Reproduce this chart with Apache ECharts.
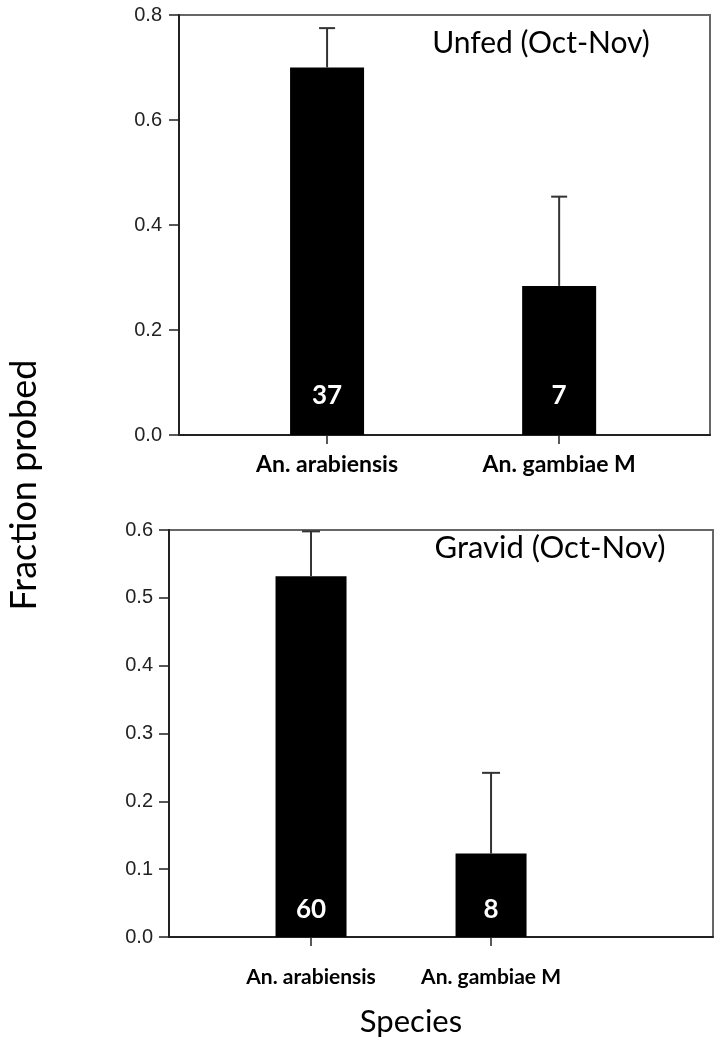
<!DOCTYPE html>
<html>
<head>
<meta charset="utf-8">
<script src="https://cdn.jsdelivr.net/npm/echarts@6/dist/echarts.min.js"></script>
<style>
  html, body { margin: 0; padding: 0; background: #fff; }
  #chart { width: 721px; height: 1049px; }
</style>
</head>
<body>
<div id="chart"></div>
<script>
// species on the x axis (same for both panels)
const species = ['An. arabiensis', 'An. gambiae M'];

// top panel: unfed (Oct-Nov)
const unfedFraction = [0.70, 0.284];
const unfedUpper = [0.775, 0.454];
const unfedN = [37, 7];

// bottom panel: gravid (Oct-Nov)
const gravidFraction = [0.532, 0.123];
const gravidUpper = [0.598, 0.242];
const gravidN = [60, 8];

const axisColor = '#222';
const frameColor = '#666';
const labelFont = 'Lato, "DejaVu Sans", sans-serif';
const tickFont = '"Liberation Sans", Arial, sans-serif';

const chart = echarts.init(document.getElementById('chart'), null, { renderer: 'canvas' });

// species are placed at x = 1, 2 on a value axis so the gaps can be uneven like the original
const positions = species.map((s, i) => i + 1);

function xAxisFor(gridIndex, min, max, fontSize, margin) {
    return {
        type: 'value',
        gridIndex: gridIndex,
        min: min,
        max: max,
        splitLine: { show: false },
        axisLine: { show: true, lineStyle: { color: axisColor, width: 2 } },
        axisTick: { show: true, customValues: positions, length: 9, lineStyle: { color: axisColor, width: 1.5 } },
        axisLabel: {
            customValues: positions,
            margin: margin,
            color: '#000',
            fontFamily: labelFont,
            fontWeight: 'bold',
            fontSize: fontSize,
            formatter: (v) => species[Math.round(v) - 1]
        }
    };
}

function yAxisFor(gridIndex, max, interval, margin) {
    return {
        type: 'value',
        gridIndex: gridIndex,
        min: 0,
        max: max,
        interval: interval,
        splitLine: { show: false },
        axisLine: { show: true, lineStyle: { color: axisColor, width: 2 } },
        axisTick: { show: true, length: 10, lineStyle: { color: axisColor, width: 1.5 } },
        axisLabel: {
            margin: margin,
            color: '#222',
            fontFamily: tickFont,
            fontSize: 20,
            formatter: (v) => v.toFixed(1)
        }
    };
}

function barSeries(axisIndex, values, counts, width, distance) {
    return {
        type: 'bar',
        xAxisIndex: axisIndex,
        yAxisIndex: axisIndex,
        barWidth: width,
        data: values.map((v, i) => [positions[i], v]),
        itemStyle: { color: '#000' },
        label: {
            show: true,
            position: 'insideBottom',
            distance: distance,
            color: '#fff',
            fontFamily: labelFont,
            fontWeight: 'bold',
            fontSize: 26,
            formatter: (p) => String(counts[p.dataIndex])
        },
        silent: true
    };
}

function errorSeries(axisIndex, values, upper, capHalf) {
    return {
        type: 'custom',
        xAxisIndex: axisIndex,
        yAxisIndex: axisIndex,
        data: values.map((v, i) => [positions[i], v, upper[i]]),
        z: 3,
        silent: true,
        renderItem: function (params, api) {
            const x = api.value(0);
            const p0 = api.coord([x, api.value(1)]);
            const p1 = api.coord([x, api.value(2)]);
            const style = { stroke: '#333', lineWidth: 2 };
            return {
                type: 'group',
                children: [
                    { type: 'line', shape: { x1: p0[0], y1: p0[1], x2: p1[0], y2: p1[1] }, style: style },
                    { type: 'line', shape: { x1: p1[0] - capHalf, y1: p1[1], x2: p1[0] + capHalf, y2: p1[1] }, style: style }
                ]
            };
        }
    };
}

const option = {
    backgroundColor: '#fff',
    animation: false,
    grid: [
        { left: 179, top: 15, width: 531, height: 420, show: true, borderColor: frameColor, borderWidth: 2, backgroundColor: 'transparent' },
        { left: 169, top: 530, width: 544, height: 407, show: true, borderColor: frameColor, borderWidth: 2, backgroundColor: 'transparent' }
    ],
    xAxis: [
        xAxisFor(0, 0.362, 2.65, 23, 18),
        xAxisFor(1, 0.211, 3.233, 21, 30)
    ],
    yAxis: [
        yAxisFor(0, 0.8, 0.2, 17),
        yAxisFor(1, 0.6, 0.1, 16)
    ],
    series: [
        barSeries(0, unfedFraction, unfedN, 74, 26),
        errorSeries(0, unfedFraction, unfedUpper, 8),
        barSeries(1, gravidFraction, gravidN, 71, 14),
        errorSeries(1, gravidFraction, gravidUpper, 9)
    ],
    graphic: [
        {
            type: 'text', x: 541, y: 43,
            style: { text: 'Unfed (Oct-Nov)', fill: '#000', font: '30px ' + labelFont, textAlign: 'center', textVerticalAlign: 'middle' }
        },
        {
            type: 'text', x: 550, y: 548,
            style: { text: 'Gravid (Oct-Nov)', fill: '#000', font: '31px ' + labelFont, textAlign: 'center', textVerticalAlign: 'middle' }
        },
        {
            type: 'text', x: 411, y: 1022,
            style: { text: 'Species', fill: '#000', font: '31px ' + labelFont, textAlign: 'center', textVerticalAlign: 'middle' }
        },
        {
            type: 'text', x: 24, y: 485, rotation: Math.PI / 2,
            style: { text: 'Fraction probed', fill: '#000', font: '36px ' + labelFont, textAlign: 'center', textVerticalAlign: 'middle' }
        }
    ]
};

chart.setOption(option);
</script>
</body>
</html>
